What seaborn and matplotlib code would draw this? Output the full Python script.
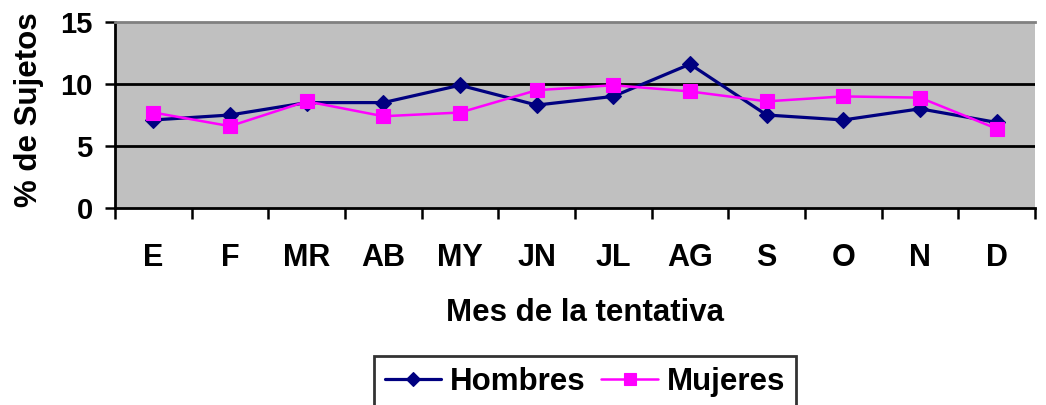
import pandas as pd
import matplotlib
matplotlib.use("Agg")
import matplotlib.pyplot as plt
import seaborn as sns

# datos
meses = ['E', 'F', 'MR', 'AB', 'MY', 'JN', 'JL', 'AG', 'S', 'O', 'N', 'D']
hombres = [7.1, 7.5, 8.5, 8.5, 9.9, 8.3, 9.0, 11.6, 7.5, 7.1, 8.0, 6.9]
mujeres = [7.7, 6.6, 8.6, 7.4, 7.7, 9.5, 9.9, 9.4, 8.6, 9.0, 8.9, 6.4]
series = ['Hombres', 'Mujeres']

df = pd.DataFrame({
    'mes': meses * 2,
    'pos': list(range(len(meses))) * 2,
    'valor': hombres + mujeres,
    'sexo': ['Hombres'] * len(meses) + ['Mujeres'] * len(meses),
})

sns.set_style("white")
plt.rcParams['font.family'] = ['Liberation Sans', 'DejaVu Sans']
plt.rcParams['font.weight'] = 'bold'
plt.rcParams['text.color'] = 'black'
plt.rcParams['xtick.color'] = 'black'
plt.rcParams['ytick.color'] = 'black'
plt.rcParams['axes.labelcolor'] = 'black'

fig = plt.figure(figsize=(10.46, 4.05), dpi=100)
ax = fig.add_axes([115 / 1046, 1 - 208 / 405, 920 / 1046, 186 / 405])
ax.set_facecolor('#C0C0C0')

# lineas de rejilla en 5 y 10
for y in [5, 10]:
    ax.axhline(y, color='black', lw=2, zorder=1)

sns.lineplot(data=df, x='pos', y='valor', hue='sexo', style='sexo',
             palette={'Hombres': '#000080', 'Mujeres': '#FF00FF'},
             markers={'Hombres': 'D', 'Mujeres': 's'},
             dashes=False, sort=False, ax=ax, zorder=3, legend=False)

lines = ax.get_lines()[-2:]
lines[0].set_linewidth(2.3)
lines[0].set_markersize(8)
lines[1].set_linewidth(1.8)
lines[1].set_markersize(10.5)
for ln in lines:
    ln.set_markeredgewidth(0.8)
    ln.set_markeredgecolor(ln.get_color())

ax.set_xlim(-0.5, len(meses) - 0.5)
ax.set_ylim(0, 15)
ax.set_yticks([0, 5, 10, 15])
ax.set_xticks(range(len(meses)))
ax.set_xticklabels(meses, fontsize=22, fontweight='bold')
ax.set_xticks([i - 0.5 for i in range(len(meses) + 1)], minor=True)
ax.tick_params(axis='x', which='major', bottom=True, length=0, pad=25)
ax.tick_params(axis='x', which='minor', bottom=True, length=8, width=1.8,
               direction='out', color='black')
ax.tick_params(axis='y', left=True, length=7, width=1.8, direction='out',
               color='black', labelsize=21, pad=9)
for t in ax.get_yticklabels():
    t.set_fontweight('bold')

ax.set_xlabel('Mes de la tentativa', fontsize=22.5, fontweight='bold',
              labelpad=18, x=0.511)
ax.set_ylabel('% de Sujetos', fontsize=22.5, fontweight='bold',
              labelpad=12, y=0.53)

ax.spines['left'].set_color('black')
ax.spines['left'].set_linewidth(2)
ax.spines['bottom'].set_color('black')
ax.spines['bottom'].set_linewidth(2)
ax.spines['top'].set_color('#808080')
ax.spines['top'].set_linewidth(2)
ax.spines['right'].set_visible(False)

handles = [plt.Line2D([], [], color=ln.get_color(), marker=ln.get_marker(),
                      lw=ln.get_linewidth(), ms=ln.get_markersize() * 0.85,
                      mew=0.8, mec=ln.get_color()) for ln in lines]
leg = fig.legend(handles, series, loc='upper center',
                 bbox_to_anchor=(585 / 1046, 1 - 356 / 405),
                 ncol=2, frameon=True, fancybox=False,
                 handlelength=1.8, handletextpad=0.3, columnspacing=0.5,
                 borderpad=0.35, borderaxespad=0,
                 prop={'weight': 'bold', 'size': 22.5})
leg.get_frame().set_edgecolor('black')
leg.get_frame().set_linewidth(2)

fig.savefig('out.png', dpi=100)
